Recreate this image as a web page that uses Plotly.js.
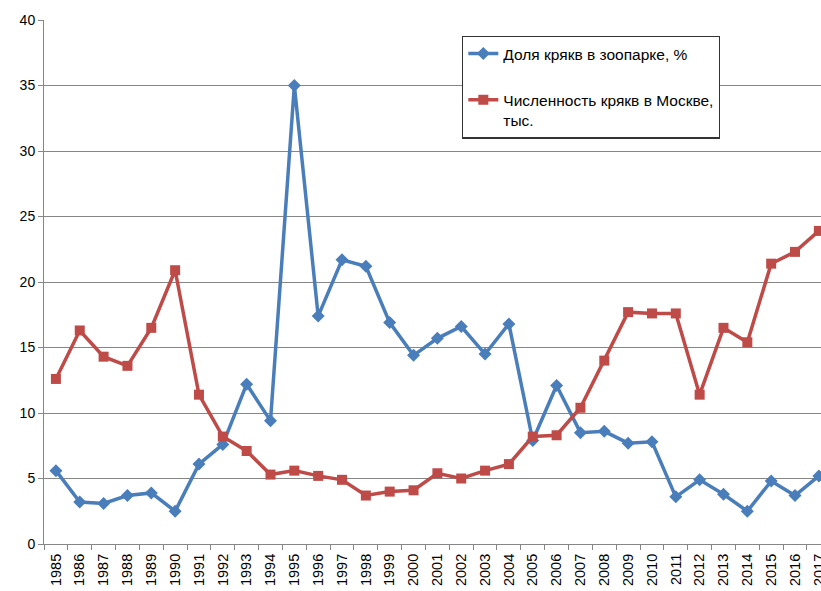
<!DOCTYPE html>
<html>
<head>
<meta charset="utf-8">
<script src="https://cdn.plot.ly/plotly-3.0.1.min.js"></script>
<style>html,body{margin:0;padding:0;background:#fff;}#chart{width:821px;height:591px;}</style>
</head>
<body>
<div id="chart"></div>
<script>
const years = ['1985','1986','1987','1988','1989','1990','1991','1992','1993','1994','1995','1996','1997','1998','1999','2000','2001','2002','2003','2004','2005','2006','2007','2008','2009','2010','2011','2012','2013','2014','2015','2016','2017'];
const shareZoo = [5.6,3.2,3.1,3.7,3.9,2.5,6.1,7.6,12.2,9.4,35.0,17.4,21.7,21.2,16.9,14.4,15.7,16.6,14.5,16.8,7.9,12.1,8.5,8.6,7.7,7.8,3.6,4.9,3.8,2.5,4.8,3.7,5.2];
const moscowCount = [12.6,16.3,14.3,13.6,16.5,20.9,11.4,8.2,7.1,5.3,5.6,5.2,4.9,3.7,4.0,4.1,5.4,5.0,5.6,6.1,8.2,8.3,10.4,14.0,17.7,17.6,17.6,11.4,16.5,15.4,21.4,22.3,23.9];
const name1 = 'Доля крякв в зоопарке, %';
const name2 = 'Численность крякв в Москве,<br>тыс.';

const traces = [
  {x: years, y: shareZoo, name: name1, type: 'scatter', mode: 'lines+markers',
   line: {color: '#4A7EBB', width: 3.5}, marker: {symbol: 'diamond', size: 10, color: '#4A7EBB'}, legendgroup: 'a'},
  {x: years, y: moscowCount, name: name2, type: 'scatter', mode: 'lines+markers',
   line: {color: '#BE4B48', width: 3.5}, marker: {symbol: 'square', size: 10, color: '#BE4B48'}, legendgroup: 'b'}
];

const layout = {
  width: 821, height: 591,
  margin: {l: 44, r: 0, t: 20, b: 47},
  paper_bgcolor: '#fff', plot_bgcolor: '#fff',
  font: {family: '"Liberation Sans", Arial, sans-serif', size: 14, color: '#000'},
  showlegend: true,
  legend: {
    x: 0.538, xanchor: 'left', y: 0.97, yanchor: 'top',
    bordercolor: '#333', borderwidth: 1.3, bgcolor: '#fff',
    traceorder: 'grouped', tracegroupgap: 23, valign: 'top',
    font: {family: '"Liberation Sans", Arial, sans-serif', size: 15.5, color: '#000'}
  },
  xaxis: {
    type: 'category', range: [-0.5, 32.09],
    showgrid: false, showline: true, linecolor: '#868686', linewidth: 1,
    ticks: 'outside', tickson: 'boundaries', ticklen: 5, tickcolor: '#868686',
    tickangle: -90, tickfont: {size: 14.5}, ticklabelstandoff: 3,
    zeroline: false, fixedrange: true
  },
  yaxis: {
    range: [0, 40], dtick: 5, tick0: 0,
    showgrid: true, gridcolor: '#868686', gridwidth: 1,
    showline: true, linecolor: '#868686', linewidth: 1,
    ticks: 'outside', ticklen: 5, tickcolor: '#868686',
    zeroline: false, tickfont: {size: 14}
  }
};

Plotly.newPlot('chart', traces, layout, {displayModeBar: false, staticPlot: true});
</script>
</body>
</html>
